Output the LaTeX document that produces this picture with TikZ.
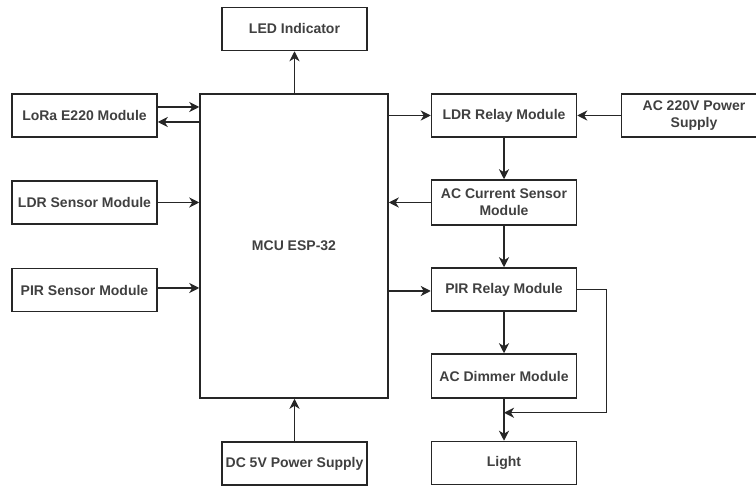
\documentclass[tikz,border=0pt]{standalone}
\usepackage{fontspec}
\setmainfont{Liberation Sans}
\usetikzlibrary{arrows.meta,calc}
\begin{document}
\begin{tikzpicture}[x=1pt,y=-1pt,
  blk/.style={draw=black!85, line width=1.5pt, fill=white, minimum width=145pt, minimum height=43pt, inner sep=1pt,
    align=center, text=black!75, font=\fontsize{14}{17}\selectfont\bfseries},
  arr/.style={draw=black!85, line width=1.5pt, -{Stealth[length=10pt,width=10pt,inset=3pt]}}]
\useasboundingbox (0,0) rectangle (756,486);
\node[blk] (led) at (294.5,29) {LED Indicator};
\node[blk] (lora) at (84.5,115.5) {LoRa E220 Module};
\node[blk] (ldrs) at (84.5,202.5) {LDR Sensor Module};
\node[blk] (pirs) at (84.5,290) {PIR Sensor Module};
\node[blk, minimum width=188pt, minimum height=304pt] (mcu) at (294,246) {MCU ESP-32};
\node[blk] (ldrr) at (504,115.5) {LDR Relay Module};
\node[blk] (ac) at (694,115.5) {AC 220V Power\\Supply};
\node[blk, minimum height=45pt] (accs) at (504,202.5) {AC Current Sensor\\Module};
\node[blk] (pirr) at (504,289.5) {PIR Relay Module};
\node[blk, minimum height=44pt] (dim) at (504,376) {AC Dimmer Module};
\node[blk] (light) at (504,463) {Light};
\node[blk] (dc) at (294.5,463.5) {DC 5V Power Supply};
\coordinate (fb) at ([yshift=-14pt]dim.south);
\draw[arr] (led.south |- mcu.north) -- (led.south);
\draw[arr] ([yshift=8.5pt]lora.east) -- ([yshift=8.5pt]lora.east -| mcu.west);
\draw[arr] ([yshift=-6.5pt]lora.east -| mcu.west) -- ([yshift=-6.5pt]lora.east);
\draw[arr] (ldrs.east) -- (ldrs.east -| mcu.west);
\draw[arr] ([yshift=2pt]pirs.east) -- ([yshift=2pt]pirs.east -| mcu.west);
\draw[arr] (mcu.east |- ldrr.west) -- (ldrr.west);
\draw[arr] (ac.west) -- (ldrr.east);
\draw[arr] (ldrr.south) -- (accs.north);
\draw[arr] (accs.west) -- (accs.west -| mcu.east);
\draw[arr] (accs.south) -- (pirr.north);
\draw[arr] ([yshift=-1.5pt]pirr.west -| mcu.east) -- ([yshift=-1.5pt]pirr.west);
\draw[arr] (pirr.south) -- (dim.north);
\draw[arr] (dim.south) -- (light.north);
\draw[arr] (pirr.east) -- ++(29,0) |- (fb);
\draw[arr] (dc.north) -- (dc.north |- mcu.south);
\end{tikzpicture}
\end{document}
